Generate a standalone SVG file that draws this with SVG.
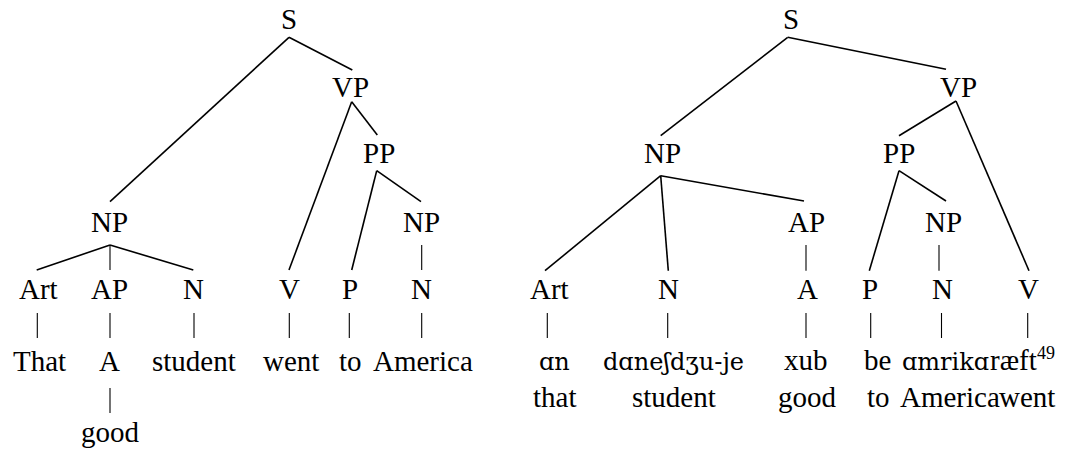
<svg xmlns="http://www.w3.org/2000/svg" width="1070" height="449" viewBox="0 0 1070 449">
<rect width="1070" height="449" fill="#fff"/>
<g id="connectors" stroke="#000" fill="none">
<g id="branches" stroke-width="1.6">
<line x1="289" y1="37.3" x2="110" y2="201.7"/>
<line x1="289" y1="37.3" x2="352.3" y2="70"/>
<line x1="351.7" y1="101.7" x2="289" y2="270"/>
<line x1="351.7" y1="101.7" x2="377.3" y2="135"/>
<line x1="376.7" y1="170.7" x2="351.7" y2="270"/>
<line x1="376.7" y1="170.7" x2="421" y2="201.7"/>
<line x1="110" y1="245" x2="36.7" y2="270"/>
<line x1="110" y1="245" x2="193.3" y2="270"/>
<line x1="787.7" y1="37.3" x2="660.7" y2="135.7"/>
<line x1="787.7" y1="37.3" x2="946" y2="69.3"/>
<line x1="956" y1="101" x2="899" y2="135.7"/>
<line x1="956" y1="101" x2="1029" y2="270.7"/>
<line x1="899" y1="170.7" x2="869.3" y2="270.7"/>
<line x1="899" y1="170.7" x2="946" y2="201"/>
<line x1="660.7" y1="175.7" x2="545" y2="270.7"/>
<line x1="660.7" y1="175.7" x2="668.3" y2="270.7"/>
<line x1="660.7" y1="175.7" x2="804" y2="201"/>
</g>
<g id="bars" stroke-width="1.1">
<line x1="110" y1="245" x2="110" y2="270"/>
<line x1="421.7" y1="245" x2="421.7" y2="270"/>
<line x1="37.3" y1="313" x2="37.3" y2="338"/>
<line x1="110" y1="313" x2="110" y2="338"/>
<line x1="194" y1="313" x2="194" y2="338"/>
<line x1="289.3" y1="313" x2="289.3" y2="338"/>
<line x1="349.3" y1="313" x2="349.3" y2="338"/>
<line x1="421.7" y1="313" x2="421.7" y2="338"/>
<line x1="110" y1="388" x2="110" y2="413"/>
<line x1="806" y1="245" x2="806" y2="270.7"/>
<line x1="939" y1="245" x2="939" y2="270.7"/>
<line x1="547.3" y1="313" x2="547.3" y2="338"/>
<line x1="667.7" y1="313" x2="667.7" y2="338"/>
<line x1="806" y1="313" x2="806" y2="338"/>
<line x1="870.7" y1="313" x2="870.7" y2="338"/>
<line x1="941.5" y1="313" x2="941.5" y2="338"/>
<line x1="1027.7" y1="313" x2="1027.7" y2="338"/>
</g>
</g>
<g id="left-tree" font-size="29">
<g id="l-S"><text font-family="Liberation Serif" x="281" y="29">S</text></g>
<g id="l-VP"><text font-family="Liberation Serif" x="332" y="97">VP</text></g>
<g id="l-PP"><text font-family="Liberation Serif" x="363" y="163">PP</text></g>
<g id="l-NP1"><text font-family="Liberation Serif" x="91" y="232">NP</text></g>
<g id="l-NP2"><text font-family="Liberation Serif" x="403" y="232">NP</text></g>
<g id="l-Art"><text font-family="Liberation Serif" x="19" y="299">Art</text></g>
<g id="l-AP"><text font-family="Liberation Serif" x="91" y="299">AP</text></g>
<g id="l-N1"><text font-family="Liberation Serif" x="183" y="299">N</text></g>
<g id="l-V"><text font-family="Liberation Serif" x="279" y="299">V</text></g>
<g id="l-P"><text font-family="Liberation Serif" x="342" y="299">P</text></g>
<g id="l-N2"><text font-family="Liberation Serif" x="411" y="299">N</text></g>
<g id="l-That"><text font-family="Liberation Serif" x="13" y="371">That</text></g>
<g id="l-A"><text font-family="Liberation Serif" x="99" y="371">A</text></g>
<g id="l-student"><text font-family="Liberation Serif" x="152" y="371">student</text></g>
<g id="l-went"><text font-family="Liberation Serif" x="263" y="371">went</text></g>
<g id="l-to"><text font-family="Liberation Serif" x="339" y="371">to</text></g>
<g id="l-America"><text font-family="Liberation Serif" x="373" y="371">America</text></g>
<g id="l-good"><text font-family="Liberation Serif" x="81" y="442">good</text></g>
</g>
<g id="right-tree" font-size="29">
<g id="r-S"><text font-family="Liberation Serif" x="783" y="29">S</text></g>
<g id="r-VP"><text font-family="Liberation Serif" x="940" y="97">VP</text></g>
<g id="r-NP1"><text font-family="Liberation Serif" x="644" y="163">NP</text></g>
<g id="r-PP"><text font-family="Liberation Serif" x="883" y="163">PP</text></g>
<g id="r-AP"><text font-family="Liberation Serif" x="788" y="232">AP</text></g>
<g id="r-NP2"><text font-family="Liberation Serif" x="925" y="232">NP</text></g>
<g id="r-Art"><text font-family="Liberation Serif" x="530" y="299">Art</text></g>
<g id="r-N1"><text font-family="Liberation Serif" x="658" y="299">N</text></g>
<g id="r-A"><text font-family="Liberation Serif" x="797" y="299">A</text></g>
<g id="r-P"><text font-family="Liberation Serif" x="862" y="299">P</text></g>
<g id="r-N2"><text font-family="Liberation Serif" x="932" y="299">N</text></g>
<g id="r-V"><text font-family="Liberation Serif" x="1018" y="299">V</text></g>
<g id="r-an"><text font-family="DejaVu Serif" font-size="24" x="539" y="370">ɑn</text><text font-family="Liberation Serif" x="533" y="407">that</text></g>
<g id="r-danesh"><text font-family="DejaVu Serif" font-size="24" x="603" y="370">dɑneʃdʒu-je</text><text font-family="Liberation Serif" x="632" y="407">student</text></g>
<g id="r-xub"><text font-family="Liberation Serif" x="784" y="370">xub</text><text font-family="Liberation Serif" x="778" y="407">good</text></g>
<g id="r-be"><text font-family="Liberation Serif" x="864" y="370">be</text><text font-family="Liberation Serif" x="867" y="407">to</text></g>
<g id="r-amrika"><text font-family="DejaVu Serif" font-size="24" x="902" y="370">ɑmrikɑ</text><text font-family="Liberation Serif" x="900" y="407">America</text></g>
<g id="r-raeft"><text font-family="Liberation Serif" x="990" y="370">ræft</text><text font-family="Liberation Serif" font-size="18" x="1037" y="359">49</text><text font-family="Liberation Serif" x="999" y="407">went</text></g>
</g>
</svg>
